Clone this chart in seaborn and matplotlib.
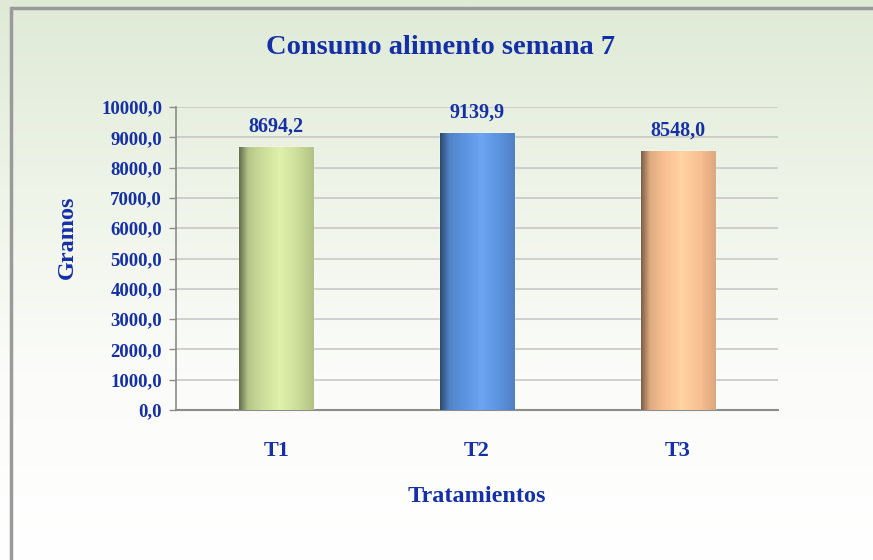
import numpy as np
import pandas as pd
import matplotlib
matplotlib.use("Agg")
import matplotlib.pyplot as plt
import seaborn as sns
from matplotlib.colors import LinearSegmentedColormap
from matplotlib.patches import Rectangle

# data
tratamientos = ["T1", "T2", "T3"]
consumo = [8694.2, 9139.9, 8548.0]
bar_colors = ["#cadc98", "#5b92de", "#f9bf90"]
y_ticks = [0, 1000, 2000, 3000, 4000, 5000, 6000, 7000, 8000, 9000, 10000]

df = pd.DataFrame({"Tratamiento": tratamientos, "Gramos": consumo})

sns.set_theme(style="white")
plt.rcParams["font.family"] = ["Liberation Serif", "DejaVu Serif"]
text_blue = "#1530a6"

fig = plt.figure(figsize=(8.73, 5.6), dpi=100)

# background: pale green fading to white, with a grey frame
bg = fig.add_axes([0, 0, 1, 1], zorder=-10)
grad = np.linspace(0, 1, 256).reshape(-1, 1)
bg_cmap = LinearSegmentedColormap.from_list(
    "bg", ["#ffffff", "#fbfcf9", "#eef4e8", "#dfead6"])
bg.imshow(grad, cmap=bg_cmap, aspect="auto", extent=[0, 1, 0, 1], origin="lower")
bg.add_patch(Rectangle((11 / 873, -0.01), 1.0, 1 - 8 / 560 + 0.01, fill=False,
                       edgecolor="#9a9a9a", linewidth=2.5, transform=bg.transAxes))
bg.set_xlim(0, 1)
bg.set_ylim(0, 1)
bg.axis("off")

ax = fig.add_axes([176 / 873, 1 - 410 / 560, (778 - 176) / 873, (410 - 107) / 560])
ax.patch.set_alpha(0)

sns.barplot(data=df, x="Tratamiento", y="Gramos", hue="Tratamiento",
            palette=bar_colors, width=0.37, legend=False, ax=ax,
            saturation=1, zorder=3)

# cylinder-like shading on each bar
for patch, col in zip(ax.patches, bar_colors):
    x0, y0 = patch.get_x(), patch.get_y()
    w, h = patch.get_width(), patch.get_height()
    base = np.array(matplotlib.colors.to_rgb(col))
    dark = base * 0.5
    light = np.minimum(base * 1.04 + 0.05, 1)
    cm = LinearSegmentedColormap.from_list(
        "b", [(0, dark), (0.12, base * 0.9), (0.3, base), (0.55, light),
              (0.8, base), (1, base * 0.88)])
    img = ax.imshow(np.linspace(0, 1, 128).reshape(1, -1), cmap=cm,
                    aspect="auto", extent=[x0, x0 + w, y0, y0 + h],
                    zorder=4)
    img.set_clip_path(patch)

ax.set_xlim(-0.5, 2.5)
ax.set_ylim(0, 10000)
ax.set_yticks(y_ticks)
ax.set_yticklabels([f"{v:.1f}".replace(".", ",") for v in y_ticks],
                   fontsize=13.5, fontweight="bold", color=text_blue)
ax.set_xticks(range(3))
ax.set_xticklabels(tratamientos, fontsize=16, fontweight="bold", color=text_blue)
ax.tick_params(axis="x", length=0, pad=22)
ax.tick_params(axis="y", length=5, width=1, color="#8c8c8c", direction="out",
               left=True, pad=5)

ax.grid(axis="y", color="#c8c8c8", linewidth=1.2, zorder=0)
for s in ["top", "right"]:
    ax.spines[s].set_visible(False)
ax.spines["left"].set_color("#8c8c8c")
ax.spines["bottom"].set_color("#8c8c8c")
ax.spines["left"].set_linewidth(1.2)
ax.spines["bottom"].set_linewidth(1.5)

for i, v in enumerate(consumo):
    ax.text(i, v + 330, f"{v:.1f}".replace(".", ","), ha="center", va="bottom",
            fontsize=14.5, fontweight="bold", color=text_blue, zorder=5)

ax.set_xlabel("Tratamientos", fontsize=17.5, fontweight="bold", color=text_blue,
              labelpad=18)
ax.set_ylabel("Gramos", fontsize=17.5, fontweight="bold", color=text_blue)
ax.yaxis.set_label_coords(-0.163, 0.57)

fig.text(441 / 873, 1 - 48 / 560, "Consumo alimento semana 7", ha="center",
         va="center", fontsize=20.5, fontweight="bold", color=text_blue)

fig.savefig("out.png", dpi=100)
